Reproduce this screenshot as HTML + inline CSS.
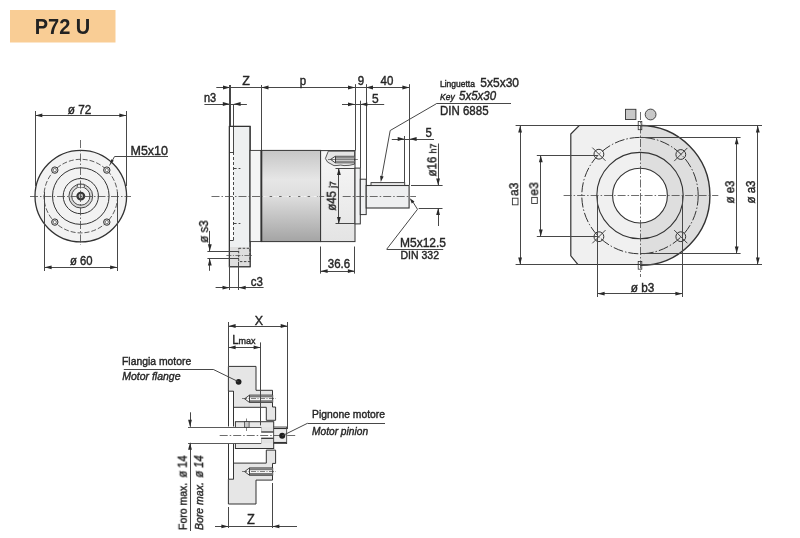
<!DOCTYPE html><html><head><meta charset="utf-8"><style>html,body{margin:0;padding:0;background:#fff;}svg{display:block;font-family:"Liberation Sans",sans-serif;-webkit-font-smoothing:antialiased;}text{will-change:transform;}</style></head><body>
<svg width="800" height="538" viewBox="0 0 800 538">
<defs>
<linearGradient id="body" x1="0" y1="0" x2="0" y2="1">
<stop offset="0" stop-color="#c6c6c6"/><stop offset="0.32" stop-color="#e6e6e6"/><stop offset="0.5" stop-color="#dedede"/><stop offset="1" stop-color="#a4a4a4"/>
</linearGradient>
<linearGradient id="hous" x1="0" y1="0" x2="0" y2="1"><stop offset="0" stop-color="#f7f7f7"/><stop offset="1" stop-color="#e4e4e4"/></linearGradient>
</defs>
<rect x="10" y="10" width="105.5" height="32.5" fill="#f9cd95"/>
<g transform="translate(62.5 33.9) scale(1 1.06)"><text x="0" y="0" font-size="20" text-anchor="middle" xml:space="preserve" font-weight="bold" fill="#222" stroke="#222" stroke-width="0">P72 U</text></g>
<circle cx="80.8" cy="196.1" r="45.8" fill="#f2f2f2" stroke="#333333" stroke-width="1.3"/>
<circle cx="80.8" cy="196.1" r="36.8" fill="none" stroke="#333333" stroke-width="0.8" stroke-dasharray="5,2"/>
<circle cx="80.8" cy="196.1" r="28.3" fill="none" stroke="#333333" stroke-width="1"/>
<circle cx="80.8" cy="196.1" r="17.6" fill="none" stroke="#333333" stroke-width="1"/>
<circle cx="80.8" cy="196.1" r="10.5" fill="none" stroke="#d8d8d8" stroke-width="2.6"/>
<circle cx="80.8" cy="196.1" r="11.9" fill="none" stroke="#333333" stroke-width="0.9"/>
<circle cx="80.8" cy="196.1" r="9.1" fill="none" stroke="#333333" stroke-width="0.9"/>
<path d="M77.1,187.2 L77.6,184.2 L84,184.2 L84.5,187.2" fill="#eee" stroke="#333333" stroke-width="0.8"/>
<circle cx="80.8" cy="196.1" r="3.4" fill="#bbb" stroke="#333333" stroke-width="2.1"/>
<circle cx="54.8" cy="170.1" r="3.2" fill="#ddd" stroke="#333333" stroke-width="1"/>
<circle cx="54.8" cy="170.1" r="1.6" fill="#fff" stroke="#333333" stroke-width="0.6"/>
<circle cx="54.8" cy="222.1" r="3.2" fill="#ddd" stroke="#333333" stroke-width="1"/>
<circle cx="54.8" cy="222.1" r="1.6" fill="#fff" stroke="#333333" stroke-width="0.6"/>
<circle cx="106.8" cy="170.1" r="3.2" fill="#ddd" stroke="#333333" stroke-width="1"/>
<circle cx="106.8" cy="170.1" r="1.6" fill="#fff" stroke="#333333" stroke-width="0.6"/>
<circle cx="106.8" cy="222.1" r="3.2" fill="#ddd" stroke="#333333" stroke-width="1"/>
<circle cx="106.8" cy="222.1" r="1.6" fill="#fff" stroke="#333333" stroke-width="0.6"/>
<line x1="30" y1="196.5" x2="131" y2="196.5" stroke="#474747" stroke-width="0.8" stroke-dasharray="8,2,1.5,2"/>
<line x1="80.5" y1="140" x2="80.5" y2="245" stroke="#474747" stroke-width="0.8" stroke-dasharray="8,2,1.5,2"/>
<line x1="35.5" y1="111" x2="35.5" y2="186" stroke="#474747" stroke-width="1.0"/>
<line x1="126.5" y1="111" x2="126.5" y2="186" stroke="#474747" stroke-width="1.0"/>
<line x1="35.3" y1="115.5" x2="126.3" y2="115.5" stroke="#474747" stroke-width="1.0"/>
<polygon points="35.30,115.40 42.30,113.50 42.30,117.30" fill="#2a2a2a"/>
<polygon points="126.30,115.40 119.30,117.30 119.30,113.50" fill="#2a2a2a"/>
<g transform="translate(79.5 113.6) scale(1 1.09)"><text x="0" y="0" font-size="11.8" text-anchor="middle" xml:space="preserve" fill="#262626" stroke="#262626" stroke-width="0.38">ø 72</text></g>
<line x1="44.5" y1="192" x2="44.5" y2="271" stroke="#474747" stroke-width="1.0"/>
<line x1="117.5" y1="192" x2="117.5" y2="271" stroke="#474747" stroke-width="1.0"/>
<line x1="44.6" y1="267.5" x2="117.1" y2="267.5" stroke="#474747" stroke-width="1.0"/>
<polygon points="44.60,267.30 51.60,265.40 51.60,269.20" fill="#2a2a2a"/>
<polygon points="117.10,267.30 110.10,269.20 110.10,265.40" fill="#2a2a2a"/>
<g transform="translate(81.2 265.3) scale(1 1.09)"><text x="0" y="0" font-size="11.3" text-anchor="middle" xml:space="preserve" fill="#262626" stroke="#262626" stroke-width="0.38">ø 60</text></g>
<line x1="114.5" y1="156.5" x2="168" y2="156.5" stroke="#474747" stroke-width="1.0"/>
<line x1="114.5" y1="156.6" x2="109.5" y2="165.5" stroke="#474747" stroke-width="1.0"/>
<polygon points="110.30,164.00 111.24,159.35 113.84,160.85" fill="#2a2a2a"/>
<g transform="translate(130.5 155) scale(1 1.09)"><text x="0" y="0" font-size="12.5" text-anchor="start" xml:space="preserve" fill="#262626" stroke="#262626" stroke-width="0.38">M5x10</text></g>
<rect x="229.4" y="126.4" width="20.7" height="140.3" fill="#eef0f1" stroke="#333333" stroke-width="1.1"/>
<rect x="229.9" y="127" width="3.6" height="113.3" fill="#fcfcfc"/>
<line x1="229.4" y1="152.5" x2="233.6" y2="152.5" stroke="#333333" stroke-width="0.9"/>
<line x1="229.4" y1="240.5" x2="233.6" y2="240.5" stroke="#333333" stroke-width="0.9"/>
<line x1="233.5" y1="104" x2="233.5" y2="152" stroke="#333333" stroke-width="0.9"/>
<line x1="233.5" y1="152" x2="233.5" y2="240" stroke="#333333" stroke-width="0.9" stroke-dasharray="3,2"/>
<line x1="233.6" y1="168.5" x2="240.4" y2="168.5" stroke="#333333" stroke-width="0.9" stroke-dasharray="3,2"/>
<line x1="233.6" y1="223.5" x2="240.4" y2="223.5" stroke="#333333" stroke-width="0.9" stroke-dasharray="3,2"/>
<rect x="229.4" y="247" width="20.7" height="19.7" fill="#dedede"/>
<rect x="238.7" y="248.3" width="11.2" height="13.3" fill="none" stroke="#333333" stroke-width="0.9" stroke-dasharray="2.5,1.5"/>
<rect x="229.4" y="126.4" width="20.7" height="140.3" fill="none" stroke="#333333" stroke-width="1.1"/>
<rect x="250.1" y="150.4" width="11.2" height="91.2" fill="#f3f4f5" stroke="#333333" stroke-width="0.9"/>
<rect x="261.4" y="150.4" width="59.2" height="91.2" fill="url(#body)" stroke="#333333" stroke-width="1"/>
<line x1="261.4" y1="150" x2="261.4" y2="242" stroke="#333333" stroke-width="1.8"/>
<rect x="320.6" y="150.6" width="34.4" height="91" fill="url(#hous)" stroke="#333333" stroke-width="1"/>
<path d="M354.5,151.2 L328.3,151.2 L325.4,158.5 Q327,163 331,164 Q334,166.5 337,165.5 Q341,164.6 344,165.6 Q349,165.8 354.5,164.2 Z" fill="#e6e6e6" stroke="#333333" stroke-width="0.8"/>
<path d="M354.5,156.3 L335.2,156.3 L330.6,159.4 L335.2,162.8 L354.5,162.8 Z" fill="#f4f4f4" stroke="#333333" stroke-width="0.9"/>
<rect x="335.2" y="156.6" width="19.3" height="2.1" fill="#8a8a8a"/>
<rect x="335.2" y="160.6" width="19.3" height="1.9" fill="#8a8a8a"/>
<line x1="335.5" y1="156.3" x2="335.5" y2="162.8" stroke="#333333" stroke-width="0.9"/>
<line x1="328" y1="159.5" x2="357.9" y2="159.5" stroke="#333333" stroke-width="0.6"/>
<rect x="355" y="168.1" width="5.3" height="55.8" fill="#f0f1f2" stroke="#333333" stroke-width="1"/>
<rect x="360.3" y="179.2" width="5.9" height="35.4" fill="#f0f1f2" stroke="#333333" stroke-width="1"/>
<rect x="366.2" y="185.5" width="42.9" height="22.5" fill="#eeeff0" stroke="#333333" stroke-width="1.1"/>
<rect x="371" y="182.6" width="33.7" height="2.9" fill="#e6e6e6" stroke="#333333" stroke-width="0.9"/>
<line x1="211.5" y1="196.5" x2="324.2" y2="196.5" stroke="#474747" stroke-width="0.8" stroke-dasharray="8,2,1.5,2"/>
<line x1="342.7" y1="196.5" x2="416" y2="196.5" stroke="#474747" stroke-width="0.8" stroke-dasharray="8,2,1.5,2"/>
<line x1="262.6" y1="196.5" x2="319.6" y2="196.5" stroke="#f4f4f4" stroke-width="0.9" stroke-dasharray="7,2.5"/>
<line x1="216.3" y1="87.5" x2="409.4" y2="87.5" stroke="#474747" stroke-width="1.0"/>
<polygon points="230.00,87.50 223.00,89.40 223.00,85.60" fill="#2a2a2a"/>
<polygon points="261.50,87.50 268.50,85.60 268.50,89.40" fill="#2a2a2a"/>
<polygon points="355.00,87.50 348.00,89.40 348.00,85.60" fill="#2a2a2a"/>
<polygon points="366.00,87.50 373.00,85.60 373.00,89.40" fill="#2a2a2a"/>
<polygon points="409.40,87.50 402.40,89.40 402.40,85.60" fill="#2a2a2a"/>
<line x1="230.5" y1="85" x2="230.5" y2="126" stroke="#474747" stroke-width="1.0"/>
<line x1="261.5" y1="85" x2="261.5" y2="150" stroke="#474747" stroke-width="1.0"/>
<line x1="355.5" y1="84.2" x2="355.5" y2="150.6" stroke="#474747" stroke-width="1.0"/>
<line x1="366.5" y1="84.2" x2="366.5" y2="185" stroke="#474747" stroke-width="1.0"/>
<line x1="409.5" y1="84.2" x2="409.5" y2="185" stroke="#474747" stroke-width="1.0"/>
<g transform="translate(246 85.3) scale(1 1.09)"><text x="0" y="0" font-size="12.5" text-anchor="middle" xml:space="preserve" fill="#262626" stroke="#262626" stroke-width="0.38">Z</text></g>
<g transform="translate(303 84.5) scale(1 1.09)"><text x="0" y="0" font-size="11.5" text-anchor="middle" xml:space="preserve" fill="#262626" stroke="#262626" stroke-width="0.38">p</text></g>
<g transform="translate(361 85.3) scale(1 1.09)"><text x="0" y="0" font-size="11.5" text-anchor="middle" xml:space="preserve" fill="#262626" stroke="#262626" stroke-width="0.38">9</text></g>
<g transform="translate(387 85.3) scale(1 1.09)"><text x="0" y="0" font-size="11.5" text-anchor="middle" xml:space="preserve" fill="#262626" stroke="#262626" stroke-width="0.38">40</text></g>
<line x1="204.4" y1="104.5" x2="246.9" y2="104.5" stroke="#474747" stroke-width="1.0"/>
<polygon points="229.80,104.00 222.80,105.90 222.80,102.10" fill="#2a2a2a"/>
<polygon points="233.60,104.00 240.60,102.10 240.60,105.90" fill="#2a2a2a"/>
<line x1="229.5" y1="85" x2="229.5" y2="126" stroke="#474747" stroke-width="1.0"/>
<g transform="translate(210 102.5) scale(1 1.09)"><text x="0" y="0" font-size="11" text-anchor="middle" xml:space="preserve" fill="#262626" stroke="#262626" stroke-width="0.38">n3</text></g>
<line x1="342" y1="104.5" x2="384.2" y2="104.5" stroke="#474747" stroke-width="1.0"/>
<polygon points="355.00,104.30 348.00,106.20 348.00,102.40" fill="#2a2a2a"/>
<polygon points="360.40,104.30 367.40,102.40 367.40,106.20" fill="#2a2a2a"/>
<line x1="360.5" y1="100.7" x2="360.5" y2="168" stroke="#474747" stroke-width="1.0"/>
<g transform="translate(375.3 102.7) scale(1 1.09)"><text x="0" y="0" font-size="12" text-anchor="middle" xml:space="preserve" fill="#262626" stroke="#262626" stroke-width="0.38">5</text></g>
<line x1="391.8" y1="139.5" x2="434" y2="139.5" stroke="#474747" stroke-width="1.0"/>
<polygon points="404.70,139.00 397.70,140.90 397.70,137.10" fill="#2a2a2a"/>
<polygon points="409.60,139.00 416.60,137.10 416.60,140.90" fill="#2a2a2a"/>
<line x1="404.5" y1="136" x2="404.5" y2="182.5" stroke="#474747" stroke-width="1.0"/>
<g transform="translate(428.7 137.4) scale(1 1.09)"><text x="0" y="0" font-size="11.5" text-anchor="middle" xml:space="preserve" fill="#262626" stroke="#262626" stroke-width="0.38">5</text></g>
<line x1="411" y1="185.5" x2="442.6" y2="185.5" stroke="#474747" stroke-width="1.0"/>
<line x1="418.7" y1="208.5" x2="442.5" y2="208.5" stroke="#474747" stroke-width="1.0"/>
<line x1="438.5" y1="143.5" x2="438.5" y2="185.5" stroke="#474747" stroke-width="1.0"/>
<polygon points="438.10,185.50 436.20,178.50 440.00,178.50" fill="#2a2a2a"/>
<line x1="438.5" y1="208" x2="438.5" y2="226" stroke="#474747" stroke-width="1.0"/>
<polygon points="438.10,208.00 440.00,215.00 436.20,215.00" fill="#2a2a2a"/>
<g transform="translate(436.3 160) rotate(-90) scale(1 1.09)"><text x="0" y="0" font-size="11.5" text-anchor="middle" xml:space="preserve" fill="#262626" stroke="#262626" stroke-width="0.38">ø16 <tspan font-size="9">h7</tspan></text></g>
<line x1="335.5" y1="168.5" x2="355" y2="168.5" stroke="#474747" stroke-width="1.0"/>
<line x1="335.5" y1="223.5" x2="355" y2="223.5" stroke="#474747" stroke-width="1.0"/>
<line x1="338.5" y1="168.1" x2="338.5" y2="223.9" stroke="#474747" stroke-width="1.0"/>
<polygon points="338.90,168.10 340.80,175.10 337.00,175.10" fill="#2a2a2a"/>
<polygon points="338.90,223.90 337.00,216.90 340.80,216.90" fill="#2a2a2a"/>
<g transform="translate(335.8 196) rotate(-90) scale(1 1.09)"><text x="0" y="0" font-size="11.5" text-anchor="middle" xml:space="preserve" fill="#262626" stroke="#262626" stroke-width="0.38">ø45 <tspan font-size="8.5">j7</tspan></text></g>
<line x1="320.5" y1="246.5" x2="320.5" y2="273.6" stroke="#474747" stroke-width="1.0"/>
<line x1="354.5" y1="246.5" x2="354.5" y2="273.6" stroke="#474747" stroke-width="1.0"/>
<line x1="320.6" y1="271.5" x2="354.9" y2="271.5" stroke="#474747" stroke-width="1.0"/>
<polygon points="320.60,271.10 327.60,269.20 327.60,273.00" fill="#2a2a2a"/>
<polygon points="354.90,271.10 347.90,273.00 347.90,269.20" fill="#2a2a2a"/>
<g transform="translate(339 267.7) scale(1 1.09)"><text x="0" y="0" font-size="11.5" text-anchor="middle" xml:space="preserve" fill="#262626" stroke="#262626" stroke-width="0.38">36.6</text></g>
<line x1="207.4" y1="251.5" x2="239" y2="251.5" stroke="#474747" stroke-width="1.0"/>
<line x1="207.4" y1="258.5" x2="239" y2="258.5" stroke="#474747" stroke-width="1.0"/>
<line x1="209.5" y1="230.9" x2="209.5" y2="251.3" stroke="#474747" stroke-width="1.0"/>
<polygon points="209.80,251.30 207.90,244.30 211.70,244.30" fill="#2a2a2a"/>
<line x1="209.5" y1="258.5" x2="209.5" y2="270.8" stroke="#474747" stroke-width="1.0"/>
<polygon points="209.80,258.50 211.70,265.50 207.90,265.50" fill="#2a2a2a"/>
<line x1="226.4" y1="255.5" x2="253.4" y2="255.5" stroke="#474747" stroke-width="0.7" stroke-dasharray="5,1.5,1,1.5"/>
<g transform="translate(208 231.5) rotate(-90) scale(1 1.09)"><text x="0" y="0" font-size="11.5" text-anchor="middle" xml:space="preserve" fill="#262626" stroke="#262626" stroke-width="0.38">ø s3</text></g>
<line x1="215.6" y1="287.5" x2="263.6" y2="287.5" stroke="#474747" stroke-width="1.0"/>
<polygon points="229.50,287.70 222.50,289.60 222.50,285.80" fill="#2a2a2a"/>
<polygon points="238.70,287.70 245.70,285.80 245.70,289.60" fill="#2a2a2a"/>
<line x1="229.5" y1="266" x2="229.5" y2="290" stroke="#474747" stroke-width="1.0"/>
<line x1="238.5" y1="262" x2="238.5" y2="290" stroke="#474747" stroke-width="1.0"/>
<g transform="translate(256.7 286.1) scale(1 1.09)"><text x="0" y="0" font-size="11.5" text-anchor="middle" xml:space="preserve" fill="#262626" stroke="#262626" stroke-width="0.38">c3</text></g>
<line x1="436.25" y1="103.5" x2="511" y2="103.5" stroke="#474747" stroke-width="1.0"/>
<line x1="436.25" y1="103.8" x2="390.2" y2="130.5" stroke="#474747" stroke-width="1.0"/>
<line x1="390.2" y1="130.5" x2="381.5" y2="178" stroke="#474747" stroke-width="1.0"/>
<polygon points="380.80,182.00 380.09,175.78 383.63,176.41" fill="#2a2a2a"/>
<g transform="translate(440 87.1) scale(1 1.09)"><text x="0" y="0" font-size="8.5" text-anchor="start" xml:space="preserve" fill="#262626" stroke="#262626" stroke-width="0.38">Linguetta</text></g>
<g transform="translate(480.3 87) scale(1 1.09)"><text x="0" y="0" font-size="12" text-anchor="start" xml:space="preserve" fill="#262626" stroke="#262626" stroke-width="0.38">5x5x30</text></g>
<g transform="translate(440 99.7) scale(1 1.09)"><text x="0" y="0" font-size="8.5" text-anchor="start" xml:space="preserve" font-style="italic" fill="#262626" stroke="#262626" stroke-width="0.38">Key</text></g>
<g transform="translate(459 99.7) scale(1 1.09)"><text x="0" y="0" font-size="11.5" text-anchor="start" xml:space="preserve" font-style="italic" fill="#262626" stroke="#262626" stroke-width="0.38">5x5x30</text></g>
<g transform="translate(440 114.7) scale(1 1.09)"><text x="0" y="0" font-size="11.5" text-anchor="start" xml:space="preserve" fill="#262626" stroke="#262626" stroke-width="0.38">DIN 6885</text></g>
<line x1="443.2" y1="249.5" x2="386.7" y2="249.5" stroke="#474747" stroke-width="1.0"/>
<line x1="386.7" y1="249.2" x2="417.5" y2="209.3" stroke="#474747" stroke-width="1.0"/>
<line x1="417.5" y1="209.3" x2="412" y2="200.5" stroke="#474747" stroke-width="1.0"/>
<polygon points="409.80,198.20 414.46,201.58 411.74,203.62" fill="#2a2a2a"/>
<g transform="translate(400 247.3) scale(1 1.09)"><text x="0" y="0" font-size="12" text-anchor="start" xml:space="preserve" fill="#262626" stroke="#262626" stroke-width="0.38">M5x12.5</text></g>
<g transform="translate(400.5 259.2) scale(1 1.09)"><text x="0" y="0" font-size="10.5" text-anchor="start" xml:space="preserve" fill="#262626" stroke="#262626" stroke-width="0.38">DIN 332</text></g>
<path d="M640,125.5 L579.2,125.5 L570.8,134 L570.8,255.8 L577.8,264.5 L640,264.5 Z" fill="#f0f0f0" stroke="none"/>
<path d="M640,125.5 A69.8,69.8 0 0 1 640,265.4 Z" fill="#dedede" stroke="none"/>
<circle cx="640" cy="195.6" r="27.4" fill="#fff" stroke="#333333" stroke-width="1.1"/>
<path d="M640,125.5 L579.2,125.5 L570.8,134 L570.8,255.8 L577.8,264.5 L640,264.5" fill="none" stroke="#333333" stroke-width="1.2"/>
<path d="M640,125.5 A69.8,69.8 0 0 1 640,265.4" fill="none" stroke="#333333" stroke-width="1.4"/>
<circle cx="640" cy="195.6" r="43.2" fill="none" stroke="#333333" stroke-width="1.1"/>
<circle cx="640" cy="195.6" r="58.2" fill="none" stroke="#333333" stroke-width="1" stroke-dasharray="10,2,1.5,2"/>
<circle cx="598.9" cy="154.2" r="4.9" fill="none" stroke="#333333" stroke-width="1"/>
<line x1="605.5" y1="160.79999999999998" x2="592.3" y2="147.6" stroke="#333333" stroke-width="0.9"/>
<circle cx="680.8" cy="154.5" r="4.9" fill="none" stroke="#333333" stroke-width="1"/>
<line x1="674.1999999999999" y1="161.1" x2="687.4" y2="147.9" stroke="#333333" stroke-width="0.9"/>
<circle cx="598.9" cy="236.7" r="4.9" fill="none" stroke="#333333" stroke-width="1"/>
<line x1="605.5" y1="230.1" x2="592.3" y2="243.29999999999998" stroke="#333333" stroke-width="0.9"/>
<circle cx="680.8" cy="236.7" r="4.9" fill="none" stroke="#333333" stroke-width="1"/>
<line x1="674.1999999999999" y1="230.1" x2="687.4" y2="243.29999999999998" stroke="#333333" stroke-width="0.9"/>
<line x1="563.6" y1="195.5" x2="718.3" y2="195.5" stroke="#474747" stroke-width="0.8" stroke-dasharray="8,2,1.5,2"/>
<line x1="640.5" y1="112" x2="640.5" y2="277" stroke="#474747" stroke-width="0.8" stroke-dasharray="8,2,1.5,2"/>
<rect x="638.2" y="121.4" width="3.6" height="8.3" fill="none" stroke="#333333" stroke-width="0.8"/>
<rect x="638.2" y="261.4" width="3.6" height="7.8" fill="none" stroke="#333333" stroke-width="0.8"/>
<rect x="625.5" y="109.3" width="10.4" height="10.2" fill="#c8c8c8" stroke="#333333" stroke-width="0.9"/>
<circle cx="650.6" cy="114.5" r="5.4" fill="#c8c8c8" stroke="#333333" stroke-width="0.9"/>
<line x1="515.6" y1="125.5" x2="579" y2="125.5" stroke="#474747" stroke-width="1.0"/>
<line x1="515.6" y1="264.5" x2="578" y2="264.5" stroke="#474747" stroke-width="1.0"/>
<line x1="520.5" y1="125.5" x2="520.5" y2="264.5" stroke="#474747" stroke-width="1.0"/>
<polygon points="520.10,125.50 522.00,132.50 518.20,132.50" fill="#2a2a2a"/>
<polygon points="520.10,264.50 518.20,257.50 522.00,257.50" fill="#2a2a2a"/>
<line x1="536.8" y1="155.5" x2="598" y2="155.5" stroke="#474747" stroke-width="1.0"/>
<line x1="536.8" y1="236.5" x2="598" y2="236.5" stroke="#474747" stroke-width="1.0"/>
<line x1="540.5" y1="155.2" x2="540.5" y2="236.4" stroke="#474747" stroke-width="1.0"/>
<polygon points="540.80,155.20 542.70,162.20 538.90,162.20" fill="#2a2a2a"/>
<polygon points="540.80,236.40 538.90,229.40 542.70,229.40" fill="#2a2a2a"/>
<g transform="translate(518.2 196) rotate(-90) scale(1 1.09)"><text x="0" y="0" font-size="12" text-anchor="start" xml:space="preserve" fill="#262626" stroke="#262626" stroke-width="0.38">a3</text></g>
<rect x="512.4" y="198.2" width="5.6" height="6.6" fill="none" stroke="#333333" stroke-width="0.9"/>
<g transform="translate(538.2 195.6) rotate(-90) scale(1 1.09)"><text x="0" y="0" font-size="12" text-anchor="start" xml:space="preserve" fill="#262626" stroke="#262626" stroke-width="0.38">e3</text></g>
<rect x="531.7" y="197.4" width="5.6" height="6.1" fill="none" stroke="#333333" stroke-width="0.9"/>
<line x1="640" y1="125.5" x2="762" y2="125.5" stroke="#474747" stroke-width="1.0"/>
<line x1="640" y1="264.5" x2="762" y2="264.5" stroke="#474747" stroke-width="1.0"/>
<line x1="757.5" y1="125.5" x2="757.5" y2="264.5" stroke="#474747" stroke-width="1.0"/>
<polygon points="757.80,125.50 759.70,132.50 755.90,132.50" fill="#2a2a2a"/>
<polygon points="757.80,264.50 755.90,257.50 759.70,257.50" fill="#2a2a2a"/>
<line x1="640" y1="137.5" x2="740.6" y2="137.5" stroke="#474747" stroke-width="1.0"/>
<line x1="640" y1="253.5" x2="740.6" y2="253.5" stroke="#474747" stroke-width="1.0"/>
<line x1="736.5" y1="137.3" x2="736.5" y2="253.5" stroke="#474747" stroke-width="1.0"/>
<polygon points="736.70,137.30 738.60,144.30 734.80,144.30" fill="#2a2a2a"/>
<polygon points="736.70,253.50 734.80,246.50 738.60,246.50" fill="#2a2a2a"/>
<g transform="translate(734.2 192) rotate(-90) scale(1 1.09)"><text x="0" y="0" font-size="11.5" text-anchor="middle" xml:space="preserve" fill="#262626" stroke="#262626" stroke-width="0.38">ø e3</text></g>
<g transform="translate(755 192) rotate(-90) scale(1 1.09)"><text x="0" y="0" font-size="11.5" text-anchor="middle" xml:space="preserve" fill="#262626" stroke="#262626" stroke-width="0.38">ø a3</text></g>
<line x1="597.5" y1="196" x2="597.5" y2="297" stroke="#474747" stroke-width="1.0"/>
<line x1="682.5" y1="196" x2="682.5" y2="297" stroke="#474747" stroke-width="1.0"/>
<line x1="597.6" y1="293.5" x2="682.4" y2="293.5" stroke="#474747" stroke-width="1.0"/>
<polygon points="597.60,293.70 604.60,291.80 604.60,295.60" fill="#2a2a2a"/>
<polygon points="682.40,293.70 675.40,295.60 675.40,291.80" fill="#2a2a2a"/>
<g transform="translate(642.5 291.5) scale(1 1.09)"><text x="0" y="0" font-size="11.8" text-anchor="middle" xml:space="preserve" fill="#262626" stroke="#262626" stroke-width="0.38">ø b3</text></g>
<path d="M228.4,366.4 L256.0,366.4 L256.0,390.3 L272.5,390.3 L272.5,407.0 L275.6,407.0 L275.6,420.3 L266.3,420.3 L266.3,407.3 L233.5,407.3 L233.5,391.2 L228.4,391.2 Z" fill="#e6e6e6" stroke="#333333" stroke-width="1"/>
<path d="M228.4,504.0 L256.0,504.0 L256.0,480.1 L272.5,480.1 L272.5,463.4 L275.6,463.4 L275.6,450.1 L266.3,450.1 L266.3,463.1 L233.5,463.1 L233.5,479.2 L228.4,479.2 Z" fill="#e6e6e6" stroke="#333333" stroke-width="1"/>
<line x1="228.5" y1="391.2" x2="228.5" y2="426.5" stroke="#333333" stroke-width="1"/>
<line x1="228.5" y1="444" x2="228.5" y2="479.2" stroke="#333333" stroke-width="1"/>
<line x1="233.5" y1="391.2" x2="233.5" y2="426.5" stroke="#333333" stroke-width="1"/>
<line x1="233.5" y1="444" x2="233.5" y2="479.2" stroke="#333333" stroke-width="1"/>
<rect x="235.4" y="421.7" width="38.3" height="26.8" fill="#e8e8e8" stroke="#333333" stroke-width="1"/>
<rect x="188" y="427.3" width="73.2" height="15.8" fill="#fff" stroke="none"/>
<line x1="188" y1="427.5" x2="261.2" y2="427.5" stroke="#474747" stroke-width="0.9"/>
<line x1="188" y1="443.5" x2="261.2" y2="443.5" stroke="#474747" stroke-width="0.9"/>
<line x1="261.5" y1="427.3" x2="261.5" y2="431.5" stroke="#333333" stroke-width="1"/>
<line x1="261.5" y1="438.5" x2="261.5" y2="443.1" stroke="#333333" stroke-width="1"/>
<rect x="261.2" y="427.3" width="12.5" height="4.7" fill="#e2e2e2"/>
<rect x="261.2" y="438.3" width="12.5" height="4.8" fill="#e2e2e2"/>
<rect x="261.2" y="432" width="12.5" height="6.3" fill="#fff"/>
<line x1="261.2" y1="432" x2="273.7" y2="432" stroke="#333333" stroke-width="1.3"/>
<line x1="261.2" y1="438.3" x2="273.7" y2="438.3" stroke="#333333" stroke-width="1.3"/>
<rect x="273.7" y="427" width="13" height="16.6" fill="#ececec" stroke="#333333" stroke-width="0.8"/>
<line x1="273.7" y1="428.5" x2="286.7" y2="428.5" stroke="#333333" stroke-width="1.1"/>
<line x1="273.7" y1="442.5" x2="286.7" y2="442.5" stroke="#333333" stroke-width="1.1"/>
<rect x="244.4" y="421.7" width="4.7" height="5.6" fill="#c8c8c8" stroke="#333333" stroke-width="0.7"/>
<line x1="246.5" y1="418.5" x2="246.5" y2="421.5" stroke="#333333" stroke-width="0.6"/>
<line x1="246.5" y1="427.5" x2="246.5" y2="431" stroke="#333333" stroke-width="0.6"/>
<path d="M272.7,395.1 L249.5,395.1 L244.6,398.8 L249.5,402.5 L272.7,402.5 Z" fill="#f4f4f4" stroke="#333333" stroke-width="0.9"/>
<rect x="249.5" y="395.40000000000003" width="23.2" height="2" fill="#7a7a7a"/>
<rect x="249.5" y="400.2" width="23.2" height="2" fill="#7a7a7a"/>
<line x1="249.5" y1="395.1" x2="249.5" y2="402.5" stroke="#333333" stroke-width="0.9"/>
<line x1="242" y1="398.5" x2="276" y2="398.5" stroke="#333333" stroke-width="0.6" stroke-dasharray="5,1.5,1,1.5"/>
<path d="M272.7,467.9 L249.5,467.9 L244.6,471.59999999999997 L249.5,475.29999999999995 L272.7,475.29999999999995 Z" fill="#f4f4f4" stroke="#333333" stroke-width="0.9"/>
<rect x="249.5" y="468.2" width="23.2" height="2" fill="#7a7a7a"/>
<rect x="249.5" y="472.99999999999994" width="23.2" height="2" fill="#7a7a7a"/>
<line x1="249.5" y1="467.9" x2="249.5" y2="475.29999999999995" stroke="#333333" stroke-width="0.9"/>
<line x1="242" y1="471.5" x2="276" y2="471.5" stroke="#333333" stroke-width="0.6" stroke-dasharray="5,1.5,1,1.5"/>
<line x1="219.7" y1="435.5" x2="297" y2="435.5" stroke="#474747" stroke-width="0.8" stroke-dasharray="8,2,1.5,2"/>
<circle cx="238.6" cy="381.8" r="2.9" fill="#1e1e1e"/>
<circle cx="282.2" cy="435.8" r="3" fill="#1e1e1e"/>
<line x1="228.5" y1="322" x2="228.5" y2="366.4" stroke="#474747" stroke-width="1.0"/>
<line x1="287.5" y1="322" x2="287.5" y2="429" stroke="#474747" stroke-width="1.0"/>
<line x1="228.6" y1="326.5" x2="287.7" y2="326.5" stroke="#474747" stroke-width="1.0"/>
<polygon points="228.60,326.00 235.60,324.10 235.60,327.90" fill="#2a2a2a"/>
<polygon points="287.70,326.00 280.70,327.90 280.70,324.10" fill="#2a2a2a"/>
<g transform="translate(258.8 324.5) scale(1 1.09)"><text x="0" y="0" font-size="12.5" text-anchor="middle" xml:space="preserve" fill="#262626" stroke="#262626" stroke-width="0.38">X</text></g>
<line x1="260.5" y1="342.4" x2="260.5" y2="425.4" stroke="#474747" stroke-width="1.0"/>
<line x1="228.6" y1="347.5" x2="260.6" y2="347.5" stroke="#474747" stroke-width="1.0"/>
<polygon points="228.60,347.40 235.60,345.50 235.60,349.30" fill="#2a2a2a"/>
<polygon points="260.60,347.40 253.60,349.30 253.60,345.50" fill="#2a2a2a"/>
<g transform="translate(232.3 343.7) scale(1 1.09)"><text x="0" y="0" font-size="11.5" text-anchor="start" xml:space="preserve" fill="#262626" stroke="#262626" stroke-width="0.38">L</text></g>
<g transform="translate(238.5 343.7) scale(1 1.09)"><text x="0" y="0" font-size="9" text-anchor="start" xml:space="preserve" fill="#262626" stroke="#262626" stroke-width="0.38">max</text></g>
<line x1="215" y1="526.5" x2="297" y2="526.5" stroke="#474747" stroke-width="1.0"/>
<polygon points="228.40,526.40 221.40,528.30 221.40,524.50" fill="#2a2a2a"/>
<polygon points="272.40,526.40 279.40,524.50 279.40,528.30" fill="#2a2a2a"/>
<line x1="228.5" y1="507" x2="228.5" y2="528" stroke="#474747" stroke-width="1.0"/>
<line x1="272.5" y1="483" x2="272.5" y2="528" stroke="#474747" stroke-width="1.0"/>
<g transform="translate(251 523.6) scale(1 1.09)"><text x="0" y="0" font-size="12.8" text-anchor="middle" xml:space="preserve" fill="#262626" stroke="#262626" stroke-width="0.38">Z</text></g>
<line x1="190.5" y1="412.3" x2="190.5" y2="426.8" stroke="#474747" stroke-width="1.0"/>
<polygon points="190.00,426.80 188.10,419.80 191.90,419.80" fill="#2a2a2a"/>
<line x1="190.5" y1="442.8" x2="190.5" y2="531" stroke="#474747" stroke-width="1.0"/>
<polygon points="190.00,442.80 191.90,449.80 188.10,449.80" fill="#2a2a2a"/>
<g transform="translate(186.6 530) rotate(-90) scale(1 1.09)"><text x="0" y="0" font-size="10.5" text-anchor="start" xml:space="preserve" fill="#262626" stroke="#262626" stroke-width="0.38">Foro max.</text></g>
<g transform="translate(186.6 477.5) rotate(-90) scale(1 1.09)"><text x="0" y="0" font-size="11" text-anchor="start" xml:space="preserve" fill="#262626" stroke="#262626" stroke-width="0.38">ø 14</text></g>
<g transform="translate(203 530) rotate(-90) scale(1 1.09)"><text x="0" y="0" font-size="10.5" text-anchor="start" xml:space="preserve" font-style="italic" fill="#262626" stroke="#262626" stroke-width="0.38">Bore max.</text></g>
<g transform="translate(203 477.5) rotate(-90) scale(1 1.09)"><text x="0" y="0" font-size="11" text-anchor="start" xml:space="preserve" font-style="italic" fill="#262626" stroke="#262626" stroke-width="0.38">ø 14</text></g>
<g transform="translate(122 364.5) scale(1 1.09)"><text x="0" y="0" font-size="10.4" text-anchor="start" xml:space="preserve" fill="#262626" stroke="#262626" stroke-width="0.38">Flangia motore</text></g>
<g transform="translate(122.2 379.9) scale(1 1.09)"><text x="0" y="0" font-size="10.5" text-anchor="start" xml:space="preserve" font-style="italic" fill="#262626" stroke="#262626" stroke-width="0.38">Motor flange</text></g>
<line x1="123.8" y1="369.5" x2="213.2" y2="369.5" stroke="#474747" stroke-width="1.0"/>
<line x1="213.2" y1="369.4" x2="238.6" y2="381.8" stroke="#474747" stroke-width="1.0"/>
<g transform="translate(312 418.3) scale(1 1.09)"><text x="0" y="0" font-size="10.35" text-anchor="start" xml:space="preserve" fill="#262626" stroke="#262626" stroke-width="0.38">Pignone motore</text></g>
<g transform="translate(312 434.5) scale(1 1.09)"><text x="0" y="0" font-size="10.2" text-anchor="start" xml:space="preserve" font-style="italic" fill="#262626" stroke="#262626" stroke-width="0.38">Motor pinion</text></g>
<line x1="307.7" y1="423.5" x2="385" y2="423.5" stroke="#474747" stroke-width="1.0"/>
<line x1="307.7" y1="423.2" x2="282.2" y2="435.8" stroke="#474747" stroke-width="1.0"/>
</svg></body></html>
